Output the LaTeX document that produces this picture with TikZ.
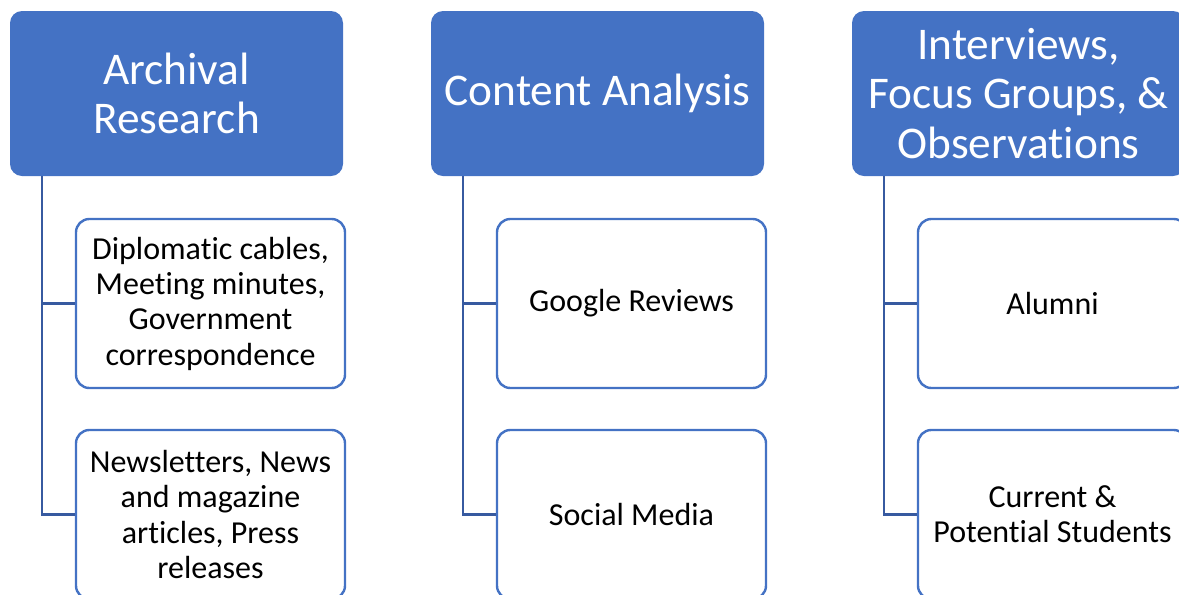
\documentclass[tikz,border=0pt]{standalone}
\usepackage{fontspec}
\setmainfont{Carlito}[Ligatures=NoCommon]
\usepackage{tikz}
\usetikzlibrary{positioning}

\definecolor{headblue}{RGB}{68,114,196}
\definecolor{linkblue}{RGB}{55,90,160}

\tikzset{
  head/.style={rectangle, rounded corners=9pt, fill=headblue, draw=none,
    text=white, align=center, minimum width=249.75pt, minimum height=123.75pt,
    font=\fontsize{34}{37}\selectfont},
  item/.style={rectangle, rounded corners=10pt, fill=white, draw=headblue,
    line width=1.8pt, align=center, minimum width=201.75pt, minimum height=126.75pt,
    font=\fontsize{24}{26.5}\selectfont},
  link/.style={draw=linkblue, line width=1.6pt}
}

\begin{document}
\begin{tikzpicture}[x=0.75pt,y=-0.75pt]
\clip (0,0) rectangle (1179,594);
\useasboundingbox (0,0) rectangle (1179,594);

% column headers
\node[head] (arch) at (176.5,93.5) {Archival\\Research};
\node[head] (cont) at (597.5,93.5) {Content Analysis};
\node[head] (intv) at (1018.5,93.5) {Interviews,\\Focus Groups, \&\\Observations};

% sources under each header
\node[item] (cables) at (210.5,303.5) {Diplomatic cables,\\Meeting minutes,\\Government\\correspondence};
\node[item] (press) at (210.5,514.5) {Newsletters, News\\and magazine\\articles, Press\\releases};
\node[item] (google) at (631.5,303.5) {Google Reviews};
\node[item] (social) at (631.5,514.5) {Social Media};
\node[item] (alumni) at (1052.5,303.5) {Alumni};
\node[item] (students) at (1052.5,514.5) {Current \&\\Potential Students};

% connectors
\draw[link] ([xshift=24pt]arch.south west) |- (cables.west);
\draw[link] ([xshift=24pt]arch.south west) |- (press.west);
\draw[link] ([xshift=24pt]cont.south west) |- (google.west);
\draw[link] ([xshift=24pt]cont.south west) |- (social.west);
\draw[link] ([xshift=24pt]intv.south west) |- (alumni.west);
\draw[link] ([xshift=24pt]intv.south west) |- (students.west);
\end{tikzpicture}
\end{document}
